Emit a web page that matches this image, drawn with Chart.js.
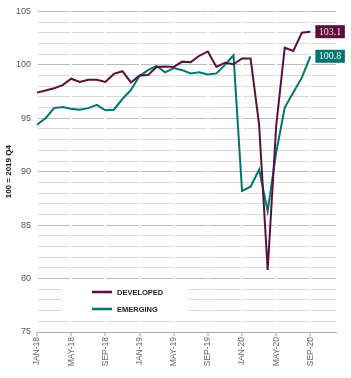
<!DOCTYPE html>
<html>
<head>
<meta charset="utf-8">
<script src="https://cdn.jsdelivr.net/npm/chart.js@4.4.1/dist/chart.umd.min.js"></script>
<style>
  body { margin: 0; background: #fff; }
  canvas { display: block; }
</style>
</head>
<body>
<canvas id="chart" width="351" height="378"></canvas>
<script>
// months on the x axis (data stops at SEP-20, axis runs to DEC-20)
const months = [
  'JAN-18', 'FEB-18', 'MAR-18', 'APR-18', 'MAY-18', 'JUN-18', 'JUL-18', 'AUG-18', 'SEP-18', 'OCT-18', 'NOV-18', 'DEC-18',
  'JAN-19', 'FEB-19', 'MAR-19', 'APR-19', 'MAY-19', 'JUN-19', 'JUL-19', 'AUG-19', 'SEP-19', 'OCT-19', 'NOV-19', 'DEC-19',
  'JAN-20', 'FEB-20', 'MAR-20', 'APR-20', 'MAY-20', 'JUN-20', 'JUL-20', 'AUG-20', 'SEP-20', 'OCT-20', 'NOV-20', 'DEC-20'
];

const developed = [
  97.4, 97.6, 97.8, 98.1, 98.7, 98.4, 98.6, 98.6, 98.4, 99.15, 99.4, 98.35,
  99.0, 99.05, 99.8, 99.85, 99.8, 100.3, 100.25, 100.85, 101.25, 99.8, 100.2, 100.05,
  100.6, 100.6, 94.4, 80.8, 94.3, 101.6, 101.3, 103.0, 103.1
];
const emerging = [
  94.4, 95.0, 95.95, 96.05, 95.9, 95.8, 95.95, 96.25, 95.75, 95.8, 96.8, 97.65,
  98.95, 99.5, 99.9, 99.3, 99.7, 99.5, 99.2, 99.3, 99.1, 99.2, 100.0, 100.9,
  88.2, 88.6, 90.2, 86.3, 91.8, 96.0, 97.4, 98.8, 100.8
];

const yTitle = '100 = 2019 Q4';
const seriesNames = ['DEVELOPED', 'EMERGING'];
const colours = ['#5b0f3b', '#00756f'];
const labelText = ['#f3dbe6', '#ffffff'];

// boxed value at the end of each line
const endLabels = {
  id: 'endLabels',
  afterDatasetsDraw(chart) {
    const ctx = chart.ctx;
    ctx.save();
    ctx.font = '10px "Liberation Serif", serif';
    ctx.textBaseline = 'middle';
    chart.data.datasets.forEach((ds, i) => {
      const meta = chart.getDatasetMeta(i);
      const pt = meta.data[meta.data.length - 1];
      const txt = ds.data[ds.data.length - 1].toFixed(1);
      const w = ctx.measureText(txt).width + 7;
      const x = pt.x + 5;
      ctx.fillStyle = ds.borderColor;
      ctx.fillRect(x, pt.y - 6.5, w, 13);
      ctx.fillStyle = labelText[i];
      ctx.fillText(txt, x + 3.5, pt.y + 0.5);
    });
    ctx.restore();
  }
};

// legend sitting inside the plot, bottom left, on a white patch
const insideLegend = {
  id: 'insideLegend',
  beforeDatasetsDraw(chart) {
    const ctx = chart.ctx;
    const a = chart.chartArea;
    ctx.save();
    ctx.fillStyle = '#fff';
    ctx.fillRect(a.left + 24, a.bottom - 49, 127, 34);
    ctx.font = 'bold 7.5px "Liberation Sans", Arial, sans-serif';
    ctx.textBaseline = 'middle';
    chart.data.datasets.forEach((ds, i) => {
      const y = a.bottom - 40 + i * 17;
      ctx.strokeStyle = ds.borderColor;
      ctx.lineWidth = 2.5;
      ctx.beginPath();
      ctx.moveTo(a.left + 55, y);
      ctx.lineTo(a.left + 75, y);
      ctx.stroke();
      ctx.fillStyle = '#222';
      ctx.fillText(ds.label, a.left + 80, y + 0.5);
    });
    ctx.restore();
  }
};

new Chart(document.getElementById('chart'), {
  type: 'line',
  data: {
    labels: months,
    datasets: [
      { label: seriesNames[0], data: developed, borderColor: colours[0] },
      { label: seriesNames[1], data: emerging, borderColor: colours[1] }
    ]
  },
  options: {
    responsive: false,
    animation: false,
    layout: { padding: { top: 11, right: 15, left: 0, bottom: 0 } },
    elements: {
      point: { radius: 0 },
      line: { borderWidth: 2, tension: 0, borderJoinStyle: 'miter' }
    },
    plugins: {
      legend: { display: false },
      tooltip: { enabled: false }
    },
    scales: {
      x: {
        offset: false,
        grid: {
          z: -0.5,
          color: c => c.index % 4 === 0 ? '#ffffff' : 'rgba(0,0,0,0)',
          lineWidth: 2,
          tickColor: c => c.index % 4 === 0 ? '#9a9a9a' : 'rgba(0,0,0,0)',
          tickLength: 4,
          tickWidth: 1
        },
        border: { color: '#b0b0b0', width: 1 },
        ticks: {
          autoSkip: false,
          minRotation: 90,
          maxRotation: 90,
          padding: 1,
          color: '#666',
          font: { family: '"Liberation Sans", Arial, sans-serif', size: 8.5 },
          callback: function (v, i) { return i % 4 === 0 ? this.getLabelForValue(v) : ''; }
        },
        afterFit: s => { s.height = 46; }
      },
      y: {
        min: 75,
        max: 105,
        grid: {
          drawTicks: false,
          color: c => c.tick.value % 5 === 0 ? '#bdbdbd' : '#d9d9d9',
          lineWidth: 1
        },
        border: { display: false },
        ticks: {
          stepSize: 1,
          autoSkip: false,
          padding: 6,
          color: '#555',
          font: { family: '"Liberation Sans", Arial, sans-serif', size: 9 },
          callback: v => v % 5 === 0 ? v : ''
        },
        title: {
          display: true,
          text: yTitle,
          color: '#111',
          padding: { top: 4, bottom: 0 },
          font: { family: '"Liberation Sans", Arial, sans-serif', size: 8, weight: 'bold' }
        },
        afterFit: s => { s.width = 37; }
      }
    }
  },
  plugins: [endLabels, insideLegend]
});
</script>
</body>
</html>
